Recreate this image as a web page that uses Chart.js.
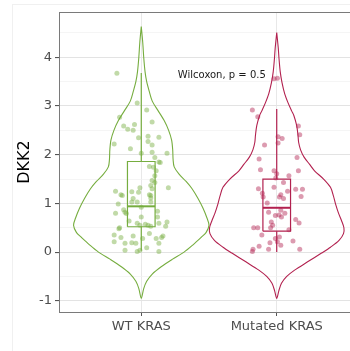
<!DOCTYPE html>
<html>
<head>
<meta charset="utf-8">
<script src="https://cdn.jsdelivr.net/npm/chart.js@4.4.1/dist/chart.umd.min.js"></script>
<style>
  html, body { margin: 0; padding: 0; background: #fff; overflow: hidden; width: 350px; height: 351px; }
  #frame { position: absolute; left: 12px; top: 4px; width: 400px; height: 400px;
           border-left: 1px solid #f0f0f0; border-top: 1px solid #f0f0f0; }
  #wrap { position: absolute; left: 0; top: 0; width: 362px; height: 351px; }
</style>
</head>
<body>
<div id="frame"></div>
<div id="wrap"><canvas id="chart" width="362" height="351"></canvas></div>
<script>
// Groups on the x axis
const categories = ['WT KRAS', 'Mutated KRAS'];
const categoryPositions = [1, 2];

// Y axis: labelled ticks and grid levels (integers labelled, halves are minor lines)
const yTickLabels = [-1, 0, 1, 2, 3, 4];
const gridLevels = [-1, -0.5, 0, 0.5, 1, 1.5, 2, 2.5, 3, 3.5, 4, 4.5];

// Violin outlines: expression level and density half-width (in group-width units)
const wtViolinLevels = [4.63, 4.3, 4.0, 3.7, 3.5, 3.3, 3.1, 2.9, 2.7, 2.5, 2.3, 2.1, 1.9, 1.75, 1.6, 1.45, 1.3, 1.1, 0.9, 0.7, 0.55, 0.4, 0.3, 0.15, 0.0, -0.15, -0.3, -0.45, -0.6, -0.75, -0.95];
const wtViolinHalfWidth = [0, 0.011, 0.018, 0.028, 0.040, 0.059, 0.081, 0.125, 0.169, 0.202, 0.224, 0.232, 0.235, 0.243, 0.279, 0.331, 0.375, 0.419, 0.456, 0.485, 0.5, 0.478, 0.441, 0.382, 0.316, 0.228, 0.147, 0.081, 0.040, 0.018, 0];

const mutViolinLevels = [4.51, 4.2, 3.97, 3.7, 3.48, 3.25, 3.07, 2.9, 2.8, 2.6, 2.4, 2.25, 2.1, 1.95, 1.8, 1.67, 1.5, 1.33, 1.15, 0.99, 0.8, 0.65, 0.5, 0.38, 0.24, 0.1, -0.02, -0.2, -0.37, -0.5, -0.64, -0.8, -0.95];
const mutViolinHalfWidth = [0, 0.011, 0.017, 0.026, 0.039, 0.059, 0.083, 0.110, 0.127, 0.147, 0.157, 0.162, 0.176, 0.202, 0.243, 0.279, 0.346, 0.397, 0.419, 0.434, 0.456, 0.478, 0.496, 0.493, 0.460, 0.397, 0.331, 0.228, 0.132, 0.074, 0.035, 0.015, 0];

// Box statistics: [lower whisker, Q1, median, Q3, upper whisker]
const wtBox = [0.03, 0.52, 0.94, 1.86, 3.68];
const mutBox = [0.00, 0.43, 0.91, 1.50, 2.94];

// Individual samples: horizontal jitter offset and expression value
const wtJitter = [-0.18, -0.03, 0.04, -0.16, 0.08, -0.13, -0.10, -0.05, -0.06, -0.02, 0.05, 0.13, -0.20, 0.05, 0.08, -0.08, 0.00, 0.08, 0.19, 0.10, 0.13, 0.14, 0.06, 0.09, 0.11, 0.10, 0.08, 0.07, 0.08, 0.07, 0.20, -0.19, -0.07, -0.01, -0.02, -0.14, -0.06, -0.07, 0.07, 0.07, 0.00, -0.13, -0.12, -0.11, -0.19, 0.00, 0.12, -0.09, 0.19, 0.18, -0.16, -0.01, 0.05, 0.07, -0.20, -0.15, -0.06, 0.01, 0.06, 0.11, 0.15, 0.16, 0.13, -0.20, -0.12, -0.07, -0.04, -0.01, -0.03, -0.12, 0.13, -0.15, 0.06, 0.10, -0.17, -0.03, 0.12, -0.03, 0.03, 0.13, -0.165, 0.04];
const wtValues = [3.67, 3.06, 2.92, 2.77, 2.67, 2.59, 2.52, 2.62, 2.50, 2.35, 2.38, 2.36, 2.22, 2.27, 2.20, 2.12, 2.03, 2.05, 2.03, 1.94, 1.85, 1.84, 1.76, 1.74, 1.67, 1.57, 1.47, 1.37, 1.30, 1.16, 1.32, 1.25, 1.24, 1.32, 1.23, 1.16, 1.10, 1.03, 1.11, 1.03, 0.92, 0.87, 0.82, 0.79, 0.80, 0.72, 0.72, 0.64, 0.62, 0.53, 0.50, 0.55, 0.55, 0.53, 0.35, 0.30, 0.33, 0.28, 0.38, 0.28, 0.30, 0.33, 0.18, 0.21, 0.18, 0.19, 0.18, 0.04, 0.01, 0.04, 0.01, 1.18, 1.18, 1.43, 0.99, 1.03, 0.84, 0.59, 0.57, 0.59, 0.48, 0.09];

const mutJitter = [-0.02, 0.005, -0.18, -0.14, 0.16, 0.17, -0.09, 0.01, 0.04, 0.01, -0.13, -0.12, -0.02, 0.16, 0.00, 0.09, -0.135, -0.106, -0.10, -0.02, 0.08, 0.03, 0.02, 0.14, 0.19, 0.18, 0.05, -0.07, 0.06, 0.017, -0.01, 0.035, -0.06, 0.14, 0.165, -0.04, -0.03, -0.045, -0.17, -0.14, 0.09, -0.11, -0.01, 0.02, 0.005, 0.03, -0.05, -0.06, 0.12, 0.17, -0.13, -0.175, -0.18, -0.007, 0.05, 0.03, 0.15];
const mutValues = [3.56, 3.57, 2.92, 2.78, 2.59, 2.41, 2.20, 2.37, 2.33, 2.24, 1.91, 1.69, 1.67, 1.67, 1.61, 1.57, 1.30, 1.21, 1.13, 1.33, 1.25, 1.18, 1.13, 1.29, 1.29, 1.14, 1.10, 1.01, 0.80, 0.76, 0.75, 0.72, 0.82, 0.67, 0.60, 0.62, 0.55, 0.50, 0.50, 0.50, 0.46, 0.35, 0.28, 0.31, 0.21, 0.14, 0.19, 0.06, 0.23, 0.06, 0.12, 0.06, 0.01, 1.52, 1.43, 0.86, 1.94];

// Test result label
const testLabel = 'Wilcoxon, p = 0.5';

// ---- styling ----
const wtColor = '#76ad3f';
const mutColor = '#b2214f';
const wtPointFill = 'rgba(118, 173, 63, 0.45)';
const mutPointFill = 'rgba(178, 33, 79, 0.45)';
const boxHalf = 0.102;
const labelAnchor = { x: 1.27, y: 3.63 };

function violinPath(center, levels, halfWidths) {
  const left = levels.map((v, i) => ({ x: center - halfWidths[i], y: v }));
  const right = levels.map((v, i) => ({ x: center + halfWidths[i], y: v })).reverse().slice(1);
  return left.concat(right);
}

function boxDatasets(center, stats, color) {
  const [lo, q1, med, q3, hi] = stats;
  const base = { type: 'scatter', showLine: true, pointRadius: 0, borderColor: color, fill: false, tension: 0, order: 1 };
  return [
    Object.assign({}, base, { borderWidth: 1.2, data: [
      { x: center - boxHalf, y: q1 }, { x: center + boxHalf, y: q1 },
      { x: center + boxHalf, y: q3 }, { x: center - boxHalf, y: q3 },
      { x: center - boxHalf, y: q1 }] }),
    Object.assign({}, base, { borderWidth: 2, data: [{ x: center - boxHalf, y: med }, { x: center + boxHalf, y: med }] }),
    Object.assign({}, base, { borderWidth: 1.2, data: [{ x: center, y: q3 }, { x: center, y: hi }] }),
    Object.assign({}, base, { borderWidth: 1.2, data: [{ x: center, y: lo }, { x: center, y: q1 }] })
  ];
}

function pointDataset(center, jitter, values, fill) {
  return {
    type: 'scatter', order: 0,
    data: values.map((v, i) => ({ x: center + jitter[i], y: v })),
    pointRadius: 2.5, pointBackgroundColor: fill, pointBorderWidth: 0, showLine: false
  };
}

function violinDataset(center, levels, halfWidths, color) {
  return {
    type: 'scatter', order: 2, showLine: true, pointRadius: 0,
    data: violinPath(center, levels, halfWidths),
    borderColor: color, borderWidth: 1.1, tension: 0.3, fill: false
  };
}

const isMajor = v => Math.abs(v - Math.round(v)) < 1e-9;

const panelBorder = {
  id: 'panelBorder',
  afterDatasetsDraw(chart) {
    const { ctx, chartArea: a } = chart;
    ctx.save();
    ctx.strokeStyle = '#7a7a7a';
    ctx.lineWidth = 1;
    ctx.strokeRect(Math.round(a.left) - 0.5, Math.round(a.top) + 0.5, a.right - a.left + 2, Math.round(a.bottom) - Math.round(a.top));
    ctx.restore();
  }
};

const testLabelDraw = {
  id: 'testLabelDraw',
  afterDatasetsDraw(chart) {
    const { ctx, scales: { x, y } } = chart;
    ctx.save();
    ctx.font = '10px "DejaVu Sans"';
    ctx.fillStyle = '#1a1a1a';
    ctx.textAlign = 'left';
    ctx.textBaseline = 'middle';
    ctx.fillText(testLabel, x.getPixelForValue(labelAnchor.x), y.getPixelForValue(labelAnchor.y));
    ctx.restore();
  }
};

const datasets = [
  pointDataset(categoryPositions[0], wtJitter, wtValues, wtPointFill),
  pointDataset(categoryPositions[1], mutJitter, mutValues, mutPointFill),
  ...boxDatasets(categoryPositions[0], wtBox, wtColor),
  ...boxDatasets(categoryPositions[1], mutBox, mutColor),
  violinDataset(categoryPositions[0], wtViolinLevels, wtViolinHalfWidth, wtColor),
  violinDataset(categoryPositions[1], mutViolinLevels, mutViolinHalfWidth, mutColor)
];

new Chart(document.getElementById('chart'), {
  type: 'scatter',
  data: { datasets },
  plugins: [panelBorder, testLabelDraw],
  options: {
    responsive: false,
    animation: false,
    devicePixelRatio: 1,
    layout: { padding: { left: 0, top: 12, right: 3, bottom: 0 } },
    plugins: { legend: { display: false }, tooltip: { enabled: false } },
    scales: {
      x: {
        type: 'linear', min: 0.4, max: 2.6,
        afterBuildTicks: s => { s.ticks = categoryPositions.map(v => ({ value: v })); },
        afterFit: s => { s.height = 39; },
        border: { display: false },
        grid: { color: '#e8e8e8', lineWidth: 1, tickLength: 4, tickColor: '#555' },
        ticks: {
          autoSkip: false, maxRotation: 0, padding: 3, color: '#4d4d4d',
          font: { family: 'DejaVu Sans', size: 13 },
          callback: v => categories[categoryPositions.indexOf(v)]
        }
      },
      y: {
        type: 'linear', min: -1.23, max: 4.93,
        afterBuildTicks: s => { s.ticks = gridLevels.map(v => ({ value: v })); },
        afterFit: s => { s.width = 60; },
        border: { display: false },
        grid: {
          color: c => isMajor(c.tick.value) ? '#e3e3e3' : '#f1f1f1',
          lineWidth: c => isMajor(c.tick.value) ? 1.1 : 0.7,
          tickLength: 5,
          tickColor: c => isMajor(c.tick.value) ? '#555' : 'rgba(0,0,0,0)'
        },
        ticks: {
          autoSkip: false, padding: 3, color: '#4d4d4d',
          font: { family: 'DejaVu Sans', size: 13 },
          callback: v => yTickLabels.includes(v) ? String(v) : ''
        },
        title: {
          display: true, text: 'DKK2', color: '#000',
          font: { family: 'DejaVu Sans', size: 16 },
          padding: { top: 15, bottom: 0 }
        }
      }
    }
  }
});
</script>
</body>
</html>
